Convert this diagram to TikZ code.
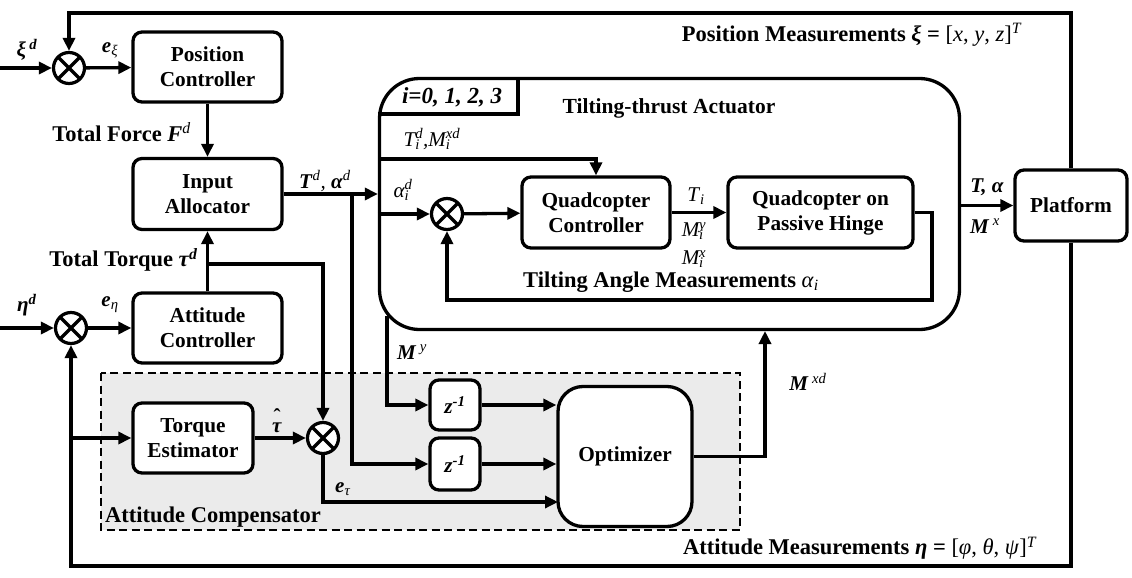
\documentclass[tikz,border=0pt]{standalone}
\usepackage{fontspec}
\setmainfont{Liberation Serif}
\usetikzlibrary{arrows.meta}
\newcommand\bfit[1]{\textbf{\textit{#1}}}
\newsavebox\ssupA
\newsavebox\ssupB
\newcommand\subsup[2]{\sbox\ssupA{\textsuperscript{#2}}\sbox\ssupB{\textsubscript{#1}}\ifdim\wd\ssupA>\wd\ssupB\relax\rlap{\usebox\ssupB}\usebox\ssupA\else\rlap{\usebox\ssupA}\usebox\ssupB\fi}
\newcommand\hatx[1]{\sbox\ssupA{#1}\rlap{\makebox[\wd\ssupA][c]{\raisebox{0.42em}{\textbf{ˆ}}}}\usebox\ssupA}
\begin{document}
\begin{tikzpicture}[x=1pt,y=-1pt,
  every node/.style={font=\fontsize{21}{25}\selectfont, inner sep=0pt},
  blk/.style={draw, line width=3.3pt, rounded corners=9pt, align=center, fill=white,
    font=\fontsize{21.3}{25}\selectfont\bfseries},
  summ/.style={draw, circle, line width=3.2pt, minimum size=31pt, fill=white,
    path picture={\draw[line width=3.2pt] (path picture bounding box.north west) -- (path picture bounding box.south east)
      (path picture bounding box.north east) -- (path picture bounding box.south west);}},
  wire/.style={line width=3.3pt},
  arr/.style={wire, -{Triangle[length=13pt,width=12pt]}},
  lbl/.style={font=\fontsize{22.5}{25}\selectfont},
]
\useasboundingbox (0,0) rectangle (1132,578);

% attitude compensator background
\draw[line width=2.6pt, dash pattern=on 8pt off 4.5pt, fill=black!8] (101,373) rectangle (740,530);

% actuator container
\node[draw, line width=3.3pt, rounded corners=40pt, minimum width=580pt, minimum height=251pt] (act) at (669.5,204) {};
\coordinate (tabc) at (518,114);
\draw[line width=3.2pt] (act.west |- tabc) -- (tabc) -- (tabc |- act.north);

% blocks
\node[summ] (s1) at (69,68) {};
\node[blk, minimum width=149pt, minimum height=70pt] (pc) at (207.5,67) {Position\\Controller};
\node[blk, minimum width=149pt, minimum height=71pt] (ia) at (207.5,194) {Input\\Allocator};
\node[blk, minimum width=149pt, minimum height=70pt] (ac) at (207.5,328) {Attitude\\Controller};
\node[summ] (s3) at (71,328) {};
\node[blk, minimum width=120pt, minimum height=70pt] (te) at (193,438) {Torque\\Estimator};
\node[summ] (s4) at (323,438) {};
\node[blk, minimum width=50pt, minimum height=50pt] (z1) at (455,405) {\bfit{z}\textsuperscript{\bfit{-1}}};
\node[blk, minimum width=50pt, minimum height=52pt] (z2) at (455,464) {\bfit{z}\textsuperscript{\bfit{-1}}};
\node[blk, rounded corners=25pt, minimum width=134pt, minimum height=140pt] (opt) at (625,456.5) {Optimizer};
\node[summ] (s2) at (447,214) {};
\node[blk, minimum width=148pt, minimum height=71pt] (qc) at (596,212.5) {Quadcopter\\Controller};
\node[blk, minimum width=185pt, minimum height=71pt] (qh) at (820.5,212.5) {Quadcopter on\\Passive Hinge};
\node[blk, minimum width=112pt, minimum height=71pt] (plat) at (1071,205.5) {Platform};

% connectors
\coordinate (xin) at (0,68);
\draw[arr] (xin) -- (s1);
\draw[arr] (s1) -- (pc);
\draw[arr] (pc) -- (ia);
\coordinate (tdin) at (act.west |- ia.east);
\draw[arr] (ia) -- (tdin);
\coordinate (b1) at (352,194);
\draw[arr] (b1) |- (z2);
\coordinate (aid) at (act.west |- s2);
\draw[arr] (aid) -- (s2);
\draw[arr] (s2) -- (qc);
\coordinate (tdl) at (379.5,159);
\draw[arr] (tdl) -| (qc);
\draw[arr] (qc) -- (qh);
\draw[arr] (qh.east) -- (932,212.5) -- (932,300) -| (s2);
\draw[arr] (act.east |- plat) -- (plat);
\draw[arr] (plat.north) -- (1071,13) -| (s1);
\draw[arr] (plat.south) -- (1071,566) -| (s3);
\coordinate (teb) at (s3 |- te);
\draw[arr] (teb) -- (te);
\coordinate (ein) at (0,328);
\draw[arr] (ein) -- (s3);
\draw[arr] (s3) -- (ac);
\draw[arr] (ac) -- (ia);
\coordinate (tb) at (207.5,264);
\draw[arr] (tb) -| (s4);
\draw[arr] (te) -- (s4);
\coordinate (etau) at (558,502);
\draw[arr] (s4) |- (etau);
\coordinate (my) at (387,316);
\draw[arr] (my) |- (z1);
\draw[arr] (z1) -- (z1 -| opt.west);
\draw[arr] (z2) -- (z2 -| opt.west);
\coordinate (mxd) at (765,331);
\draw[arr] (opt) -| (mxd);

% labels
\node (l_xid) at (27,50) {\bfit{ξ}\,\textsuperscript{\bfit{d}}};
\node (l_exi) at (110,50) {\bfit{e}\textsubscript{\textit{ξ}}};
\node[lbl, anchor=east] (l_tf) at (191,132) {\textbf{Total Force }\bfit{F}\textsuperscript{\textit{d}}};
\node (l_tda) at (325,181) {\bfit{T}\textsuperscript{\textit{d}}\textit{, }\bfit{α}\textsuperscript{\textit{d}}};
\node[lbl, anchor=east] (l_tt) at (198,260) {\textbf{Total Torque }\bfit{τ}\textsuperscript{\bfit{d}}};
\node (l_etad) at (27,305) {\bfit{η}\textsuperscript{\bfit{d}}};
\node (l_eeta) at (110,305) {\bfit{e}\textsubscript{\textit{η}}};
\node (l_tauhat) at (277,421) {\hatx{\bfit{τ}}};
\node (l_etau) at (343,489) {\bfit{e}\textsubscript{\textit{τ}}};
\node (l_my) at (412,352) {\bfit{M}\,\textsuperscript{\textit{y}}};
\node (l_mxd) at (808,382) {\bfit{M}\,\textsuperscript{\textit{xd}}};
\node (l_ta) at (987,187) {\bfit{T, α}};
\node (l_mx) at (985,226) {\bfit{M}\,\textsuperscript{\textit{x}}};
\node (l_tdi) at (432,139) {\textit{T\subsup{i}{d},M\subsup{i}{xd}}};
\node (l_aid) at (403,190) {\textit{α\subsup{i}{d}}};
\node (l_ti) at (696,196) {\textit{T}\textsubscript{\textit{i}}};
\node (l_miy) at (694,231) {\textit{M\subsup{i}{y}}};
\node (l_mix) at (694,259) {\textit{M\subsup{i}{x}}};
\node[lbl] (l_tam) at (671,282) {\textbf{Tilting Angle Measurements }\textit{α}\textsubscript{\textit{i}}};
\node[font=\fontsize{21.5}{25}\selectfont] (l_tta) at (669,108) {\textbf{Tilting-thrust Actuator}};
\node[font=\fontsize{23}{25}\selectfont] (l_i) at (452,97) {\bfit{i=0, 1, 2, 3}};
\node[lbl] (l_pm) at (852,35) {\textbf{Position Measurements }\bfit{ξ}\textbf{ = }[\textit{x}, \textit{y}, \textit{z}]\textsuperscript{\textit{T}}};
\node[lbl] (l_am) at (860,548) {\textbf{Attitude Measurements }\bfit{η}\textbf{ = }[\textit{φ}, \textit{θ}, \textit{ψ}]\textsuperscript{\textit{T}}};
\node[lbl] (l_comp) at (213,517) {\textbf{Attitude Compensator}};
\end{tikzpicture}
\end{document}
